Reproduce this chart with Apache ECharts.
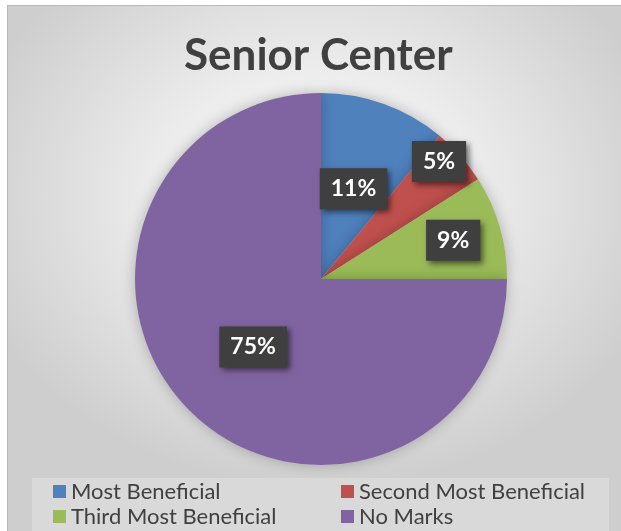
<!DOCTYPE html>
<html><head><meta charset="utf-8">
<script src="https://cdn.jsdelivr.net/npm/echarts@6/dist/echarts.min.js"></script>
<style>
html,body{margin:0;padding:0;background:#fff;}
#frame{position:absolute;left:7px;top:5px;width:620px;height:532px;box-sizing:border-box;border:1px solid #b8b8b8;
background:radial-gradient(ellipse 58% 55% at 50% 36%, #fdfdfd 0%, #ececec 45%, #cecece 100%);}
#c{position:absolute;left:0;top:0;width:621px;height:531px;}
</style></head>
<body><div id="frame"></div><div id="c"></div>
<script>
const titleText = 'Senior Center';
const categories = ['Most Beneficial','Second Most Beneficial','Third Most Beneficial','No Marks'];
const values = [11, 5, 9, 75];
const colors = ['#4f81bd','#c0504d','#9bbb59','#8064a2'];
const labelOffsets = [[0,0],[46,-54],[40,-12],[0,0]];

const chart = echarts.init(document.getElementById('c'), null, {renderer:'canvas'});
const labelBase = {
  show:true, position:'inside', formatter:'{d}%',
  color:'#fff', fontFamily:'Lato', fontWeight:'bold', fontSize:23,
  backgroundColor:'#3f3f3f', padding:[10,11,8,11],
  shadowColor:'rgba(0,0,0,0.55)', shadowBlur:6, shadowOffsetX:3, shadowOffsetY:3
};
const legendText = {fontFamily:'Lato',fontSize:22,color:'#404040',lineHeight:25};
chart.setOption({
  animation:false,
  title:{text:titleText,left:184,top:34,padding:0,textStyle:{fontFamily:'Lato',fontWeight:'bold',fontSize:44,color:'#404040'}},
  graphic:[{type:'rect',shape:{x:32,y:478,width:577,height:60},style:{fill:'#d9d9d9'},z:-1}],
  legend:[
    {data:[categories[0],categories[2]],orient:'vertical',left:53,top:479,height:60,padding:0,itemGap:0,icon:'rect',itemWidth:13,itemHeight:13,textStyle:legendText},
    {data:[categories[1],categories[3]],orient:'vertical',left:341,top:479,height:60,padding:0,itemGap:0,icon:'rect',itemWidth:13,itemHeight:13,textStyle:legendText}
  ],
  series:[{
    type:'pie', center:[321,279], radius:[0,186], startAngle:90, clockwise:true,
    label:labelBase, labelLine:{show:false},
    itemStyle:{shadowColor:'rgba(0,0,0,0.25)',shadowBlur:14},
    emphasis:{disabled:true},
    data:categories.map((n,i)=>({name:n,value:values[i],itemStyle:{color:colors[i]},label:{offset:labelOffsets[i]}}))
  }]
});
</script></body></html>
